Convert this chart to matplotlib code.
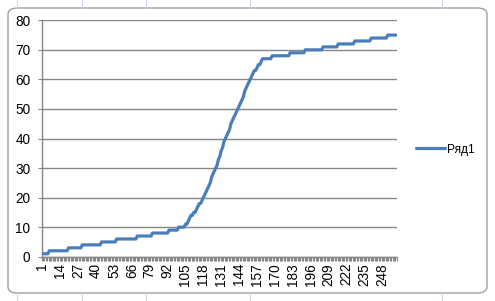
import numpy as np
import matplotlib
matplotlib.use("Agg")
import matplotlib.pyplot as plt
from matplotlib.patches import FancyBboxPatch
from matplotlib.lines import Line2D

# Data: series "Ряд1" as run-length encoded levels (value, number of consecutive categories)
levels = [1, 2, 3, 4, 5, 6, 7, 8, 9, 10,
          11, 12, 13, 14,
          15, 16, 17, 18, 19, 20,
          21, 22, 23, 24, 25, 27, 28, 29, 30,
          31, 33, 34, 36, 37, 39, 40,
          41, 42, 43, 45, 46, 47, 48, 49, 50,
          51, 52, 53, 54, 56, 57, 58, 59, 60,
          61, 62, 63, 64, 65, 66,
          67, 68, 69, 70, 71, 72, 73, 74, 75]
counts = [5, 14, 10, 14, 11, 15, 11, 12, 7, 5,
          2, 1, 1, 2,
          2, 1, 1, 2, 1, 1,
          1, 1, 1, 1, 1, 1, 1, 1, 1,
          1, 1, 1, 1, 1, 1, 1,
          1, 1, 1, 1, 1, 1, 1, 1, 1,
          1, 1, 1, 1, 1, 1, 1, 1, 1,
          1, 1, 2, 1, 2, 1,
          7, 13, 11, 13, 11, 12, 12, 12, 7]
values = np.repeat(levels, counts)
categories = np.arange(1, len(values) + 1)
xtick_labels = list(range(1, len(values) + 1, 13))
yticks = [0, 10, 20, 30, 40, 50, 60, 70, 80]
series_name = "Ряд1"

W, H = 495, 301
fig = plt.figure(figsize=(W / 100, H / 100), dpi=100)
fig.patch.set_facecolor("white")

# spreadsheet-ish background lines and chart frame
for xv in [17, 82, 146, 250, 442]:
    fig.add_artist(Line2D([xv / W, xv / W], [1 - 8 / H, 1.0], color="#d0d7e5", lw=0.8))
    fig.add_artist(Line2D([xv / W, xv / W], [0, 8 / H], color="#d0d7e5", lw=0.8))
frame = FancyBboxPatch((8 / W, 8 / H), (487 - 8) / W, (293 - 8) / H,
                       boxstyle="round,pad=0,rounding_size=0.02",
                       transform=fig.transFigure, facecolor="white",
                       edgecolor="#a0a0a0", lw=1.0, zorder=0)
fig.add_artist(frame)

left, right, top, bottom = 41.7, 396.7, 20.3, 256.7
ax = fig.add_axes([left / W, (H - bottom) / H, (right - left) / W, (bottom - top) / H])
ax.set_facecolor("none")

ax.plot(categories, values, color="#4A7EBB", lw=2.3, solid_capstyle="round",
        solid_joinstyle="round", label=series_name, zorder=3)

ax.set_xlim(0.5, len(values) + 0.5)
ax.set_ylim(0, 80)
ax.set_yticks(yticks)
ax.yaxis.grid(True, color="#868686", lw=1.0)
ax.set_axisbelow(True)

ax.set_xticks(xtick_labels)
ax.set_xticklabels([str(v) for v in xtick_labels], rotation=90)
ax.set_xticks(np.arange(0.5, len(values) + 1, 1.0), minor=True)
ax.tick_params(axis="x", which="major", length=0, pad=4.5)
ax.tick_params(axis="x", which="minor", length=3.2, width=0.8, color="#868686", direction="out")
ax.tick_params(axis="y", length=3.2, width=0.8, color="#868686", pad=5)

for lab in ax.get_xticklabels() + ax.get_yticklabels():
    lab.set_fontfamily("Liberation Sans")
    lab.set_fontsize(9.8)
    lab.set_color("black")

for s in ["top", "right"]:
    ax.spines[s].set_visible(False)
for s in ["left", "bottom"]:
    ax.spines[s].set_color("#868686")
    ax.spines[s].set_linewidth(1.0)

leg = fig.legend(loc="center left", bbox_to_anchor=(416 / W, 1 - 149.5 / H),
                 frameon=False, handlelength=2.45, handletextpad=0.15,
                 borderpad=0, borderaxespad=0,
                 prop={"family": "Liberation Sans", "size": 8.6})

fig.savefig("out.png", dpi=100, facecolor=fig.get_facecolor())
